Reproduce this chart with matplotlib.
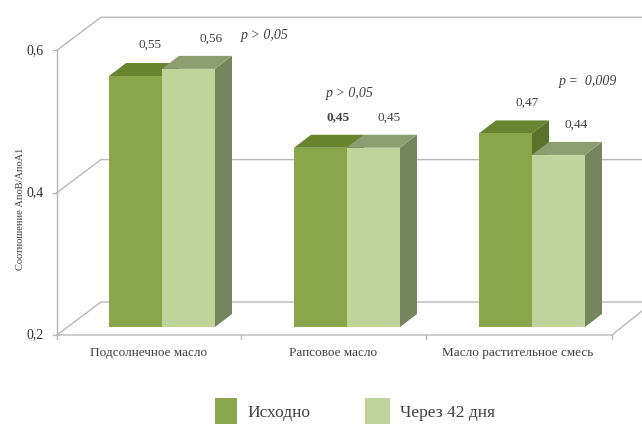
import matplotlib
matplotlib.use('Agg')
import matplotlib.pyplot as plt
from matplotlib.patches import Polygon, Rectangle

categories = ['Подсолнечное масло', 'Рапсовое масло', 'Масло растительное смесь']
baseline = [0.55, 0.45, 0.47]
after_42 = [0.56, 0.45, 0.44]
value_labels_base = ['0,55', '0,45', '0,47']
value_labels_after = ['0,56', '0,45', '0,44']
p_labels = ['p > 0,05', 'p > 0,05', 'p =  0,009']
y_ticks = [0.2, 0.4, 0.6]
y_tick_labels = ['0,2', '0,4', '0,6']
series_names = ['Исходно', 'Через 42 дня']

W, H = 642, 424
FLOOR_PX = 327
PX_PER_UNIT = 717
GROUP_X = [162, 347, 532]

BAR_W = 53
DX, DY = 17, 13

DARK = ('#89a74a', '#68842f', '#5a712b')
LIGHT = ('#bfd39b', '#8c9e70', '#75855c')
GRID = '#b9b9b9'
TEXT = '#404040'
SERIF = 'Liberation Serif'


def val_to_y(v):
    return FLOOR_PX - (v - 0.2) * PX_PER_UNIT


def draw_bar(ax, x0, value, colors):
    front, top, side = colors
    y = val_to_y(value)
    # side first so the front face covers its edge
    ax.add_patch(Polygon([(x0 + BAR_W, y), (x0 + BAR_W + DX, y - DY),
                          (x0 + BAR_W + DX, FLOOR_PX - DY), (x0 + BAR_W, FLOOR_PX)],
                         fc=side, ec='none', zorder=3))
    ax.add_patch(Polygon([(x0, y), (x0 + DX, y - DY), (x0 + BAR_W + DX, y - DY),
                          (x0 + BAR_W, y)], fc=top, ec='none', zorder=3))
    ax.add_patch(Rectangle((x0, y), BAR_W, FLOOR_PX - y, fc=front, ec='none', zorder=3))


fig = plt.figure(figsize=(W / 100, H / 100), dpi=100)
ax = fig.add_axes([0, 0, 1, 1])
ax.set_xlim(0, W)
ax.set_ylim(H, 0)
ax.axis('off')

# walls and gridlines
left_x, back_x = 57, 101
for tick, label in zip(y_ticks, y_tick_labels):
    y_front = 335 - (tick - 0.2) * 712
    y_back = y_front - 33
    ax.plot([left_x, back_x, W], [y_front, y_back, y_back], color=GRID, lw=1, zorder=1)
    ax.plot([left_x - 4, left_x], [y_front, y_front], color=GRID, lw=1, zorder=1)
    ax.text(left_x - 13, y_front, label, ha='right', va='center', fontsize=10,
            family=SERIF, color='#303030')
ax.plot([left_x, left_x], [50, 335], color=GRID, lw=1, zorder=1)
ax.plot([left_x, 612, W], [335, 335, 311], color=GRID, lw=1, zorder=1)
for tick_x in [57, 241, 426, 612]:
    ax.plot([tick_x, tick_x], [335, 339], color=GRID, lw=1, zorder=1)

base_label_x = [150, 338, 527]
after_label_x = [211, 389, 576]
for i, cx in enumerate(GROUP_X):
    draw_bar(ax, cx - BAR_W, baseline[i], DARK)
    draw_bar(ax, cx, after_42[i], LIGHT)
    ax.text(base_label_x[i], val_to_y(baseline[i]) - 31, value_labels_base[i], ha='center',
            va='center', fontsize=9.5, family=SERIF, color=TEXT,
            fontweight='bold' if i == 1 else 'normal')
    ax.text(after_label_x[i], val_to_y(after_42[i]) - 30, value_labels_after[i],
            ha='center', va='center', fontsize=9.5, family=SERIF, color=TEXT)

for label, (x, y) in zip(p_labels, [(265, 35), (350, 94), (588, 82)]):
    ax.text(x, y, label, ha='center', va='center', fontsize=10, family=SERIF,
            style='italic', color=TEXT)

for label, x in zip(categories, [149, 333, 518]):
    ax.text(x, 353, label, ha='center', va='center', fontsize=9.5, family=SERIF, color=TEXT)

ax.text(21, 209, 'Соотношение АпоВ/АпоА1', rotation=90, ha='center', va='center',
        fontsize=7.5, family=SERIF, color=TEXT)

# legend
ax.add_patch(Rectangle((215, 398), 22, 26, fc=DARK[0], ec='none'))
ax.text(247, 413, series_names[0], ha='left', va='center', fontsize=12.5, family=SERIF, color=TEXT)
ax.add_patch(Rectangle((365, 398), 25, 26, fc=LIGHT[0], ec='none'))
ax.text(400, 413, series_names[1], ha='left', va='center', fontsize=12.5, family=SERIF, color=TEXT)

fig.savefig('out.png', dpi=100)
